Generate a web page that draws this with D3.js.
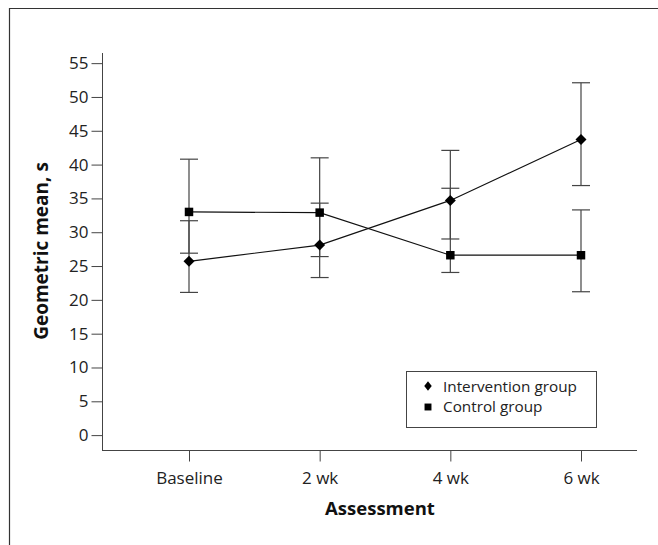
<!DOCTYPE html>
<html><head><meta charset="utf-8">
<script src="https://cdn.jsdelivr.net/npm/d3@7"></script>
<style>
html,body{margin:0;padding:0;background:#fff;}
svg{display:block;font-family:"Open Sans",Lato,sans-serif;}
</style></head>
<body><svg id="c" width="658" height="545"></svg>
<script>
const categories = ["Baseline","2 wk","4 wk","6 wk"];
const interventionMean = [25.7, 28.1, 34.7, 43.7];
const interventionLow  = [21.1, 23.3, 29.0, 36.9];
const interventionHigh = [31.7, 34.3, 42.1, 52.1];
const controlMean = [33.0, 32.9, 26.6, 26.6];
const controlLow  = [26.9, 26.4, 24.05, 21.2];
const controlHigh = [40.8, 41.0, 36.5, 33.3];
const yTicks = [0,5,10,15,20,25,30,35,40,45,50,55];
const seriesNames = ["Intervention group","Control group"];

const svg = d3.select("#c");
// frame
svg.append("path").attr("d","M9.5,545 V8.5 H658").attr("fill","none").attr("stroke","#333").attr("stroke-width",1.2);

const x = d3.scalePoint().domain(categories).range([189,581]);
const y = d3.scaleLinear().domain([-2.2,56.5]).range([450,53]);

const axisColor = "#444";
const tickFont = "17px";
// y axis
const ya = svg.append("g").attr("transform","translate(102.5,0)")
  .call(d3.axisLeft(y).tickValues(yTicks).tickSize(11).tickPadding(3).tickSizeOuter(0));
ya.select(".domain").remove();
ya.append("line").attr("x1",0).attr("x2",0).attr("y1",53).attr("y2",450).attr("stroke",axisColor);
ya.selectAll(".tick line").attr("stroke",axisColor);
ya.selectAll(".tick text").attr("fill","#222").style("font-size",tickFont).style("font-family","'Open Sans',sans-serif");

// x axis
const xa = svg.append("g").attr("transform","translate(0,450.5)")
  .call(d3.axisBottom(x).tickSize(11).tickPadding(10).tickSizeOuter(0));
xa.select(".domain").remove();
xa.append("line").attr("x1",102).attr("x2",637).attr("y1",0).attr("y2",0).attr("stroke",axisColor);
xa.selectAll(".tick line").attr("stroke",axisColor);
xa.selectAll(".tick text").attr("fill","#222").style("font-size",tickFont).style("font-family","'Open Sans',sans-serif");

// axis titles
svg.append("text").attr("x",380).attr("y",515).attr("text-anchor","middle")
  .style("font-size","18.5px").style("font-weight","bold").attr("fill","#111").text("Assessment");
svg.append("text").attr("transform","translate(48,251) rotate(-90)").attr("text-anchor","middle")
  .style("font-size","19px").style("font-weight","bold").attr("fill","#111").text("Geometric mean, s");

// error bars
function errorBars(lo, hi){
  const g = svg.append("g").attr("stroke","#444").attr("stroke-width",1.2);
  categories.forEach((c,i)=>{
    const cx = x(c);
    g.append("line").attr("x1",cx).attr("x2",cx).attr("y1",y(lo[i])).attr("y2",y(hi[i]));
    [lo[i],hi[i]].forEach(v=>{
      g.append("line").attr("x1",cx-9).attr("x2",cx+9).attr("y1",y(v)).attr("y2",y(v));
    });
  });
}
errorBars(interventionLow, interventionHigh);
errorBars(controlLow, controlHigh);

const line = d3.line().x((d,i)=>x(categories[i])).y(d=>y(d));
svg.append("path").datum(controlMean).attr("d",line).attr("fill","none").attr("stroke","#111").attr("stroke-width",1.2);
svg.append("path").datum(interventionMean).attr("d",line).attr("fill","none").attr("stroke","#111").attr("stroke-width",1.2);

const sq = d3.symbol().type(d3.symbolSquare).size(72);
svg.append("g").selectAll("path").data(controlMean).join("path")
  .attr("transform",(d,i)=>`translate(${x(categories[i])},${y(d)})`).attr("d",sq()).attr("fill","#000");
svg.append("g").selectAll("path").data(interventionMean).join("path")
  .attr("transform",(d,i)=>`translate(${x(categories[i])},${y(d)}) rotate(45)`).attr("d",d3.symbol().type(d3.symbolSquare).size(60)()).attr("fill","#000");

// legend
const lg = svg.append("g");
lg.append("rect").attr("x",406.5).attr("y",371.5).attr("width",190).attr("height",56)
  .attr("fill","#fff").attr("stroke","#444").attr("stroke-width",1);
seriesNames.forEach((n,i)=>{
  const ly = 388 + i*20;
  const s = lg.append("path").attr("fill","#000");
  if(i===0) s.attr("transform",`translate(428,${ly-2}) scale(0.8,1) rotate(45)`).attr("d",d3.symbol().type(d3.symbolSquare).size(44)());
  else s.attr("transform",`translate(428,${ly-1})`).attr("d",d3.symbol().type(d3.symbolSquare).size(48)());
  lg.append("text").attr("x",443).attr("y",ly+4).style("font-size","15.3px").attr("fill","#222").text(n);
});
</script></body></html>
